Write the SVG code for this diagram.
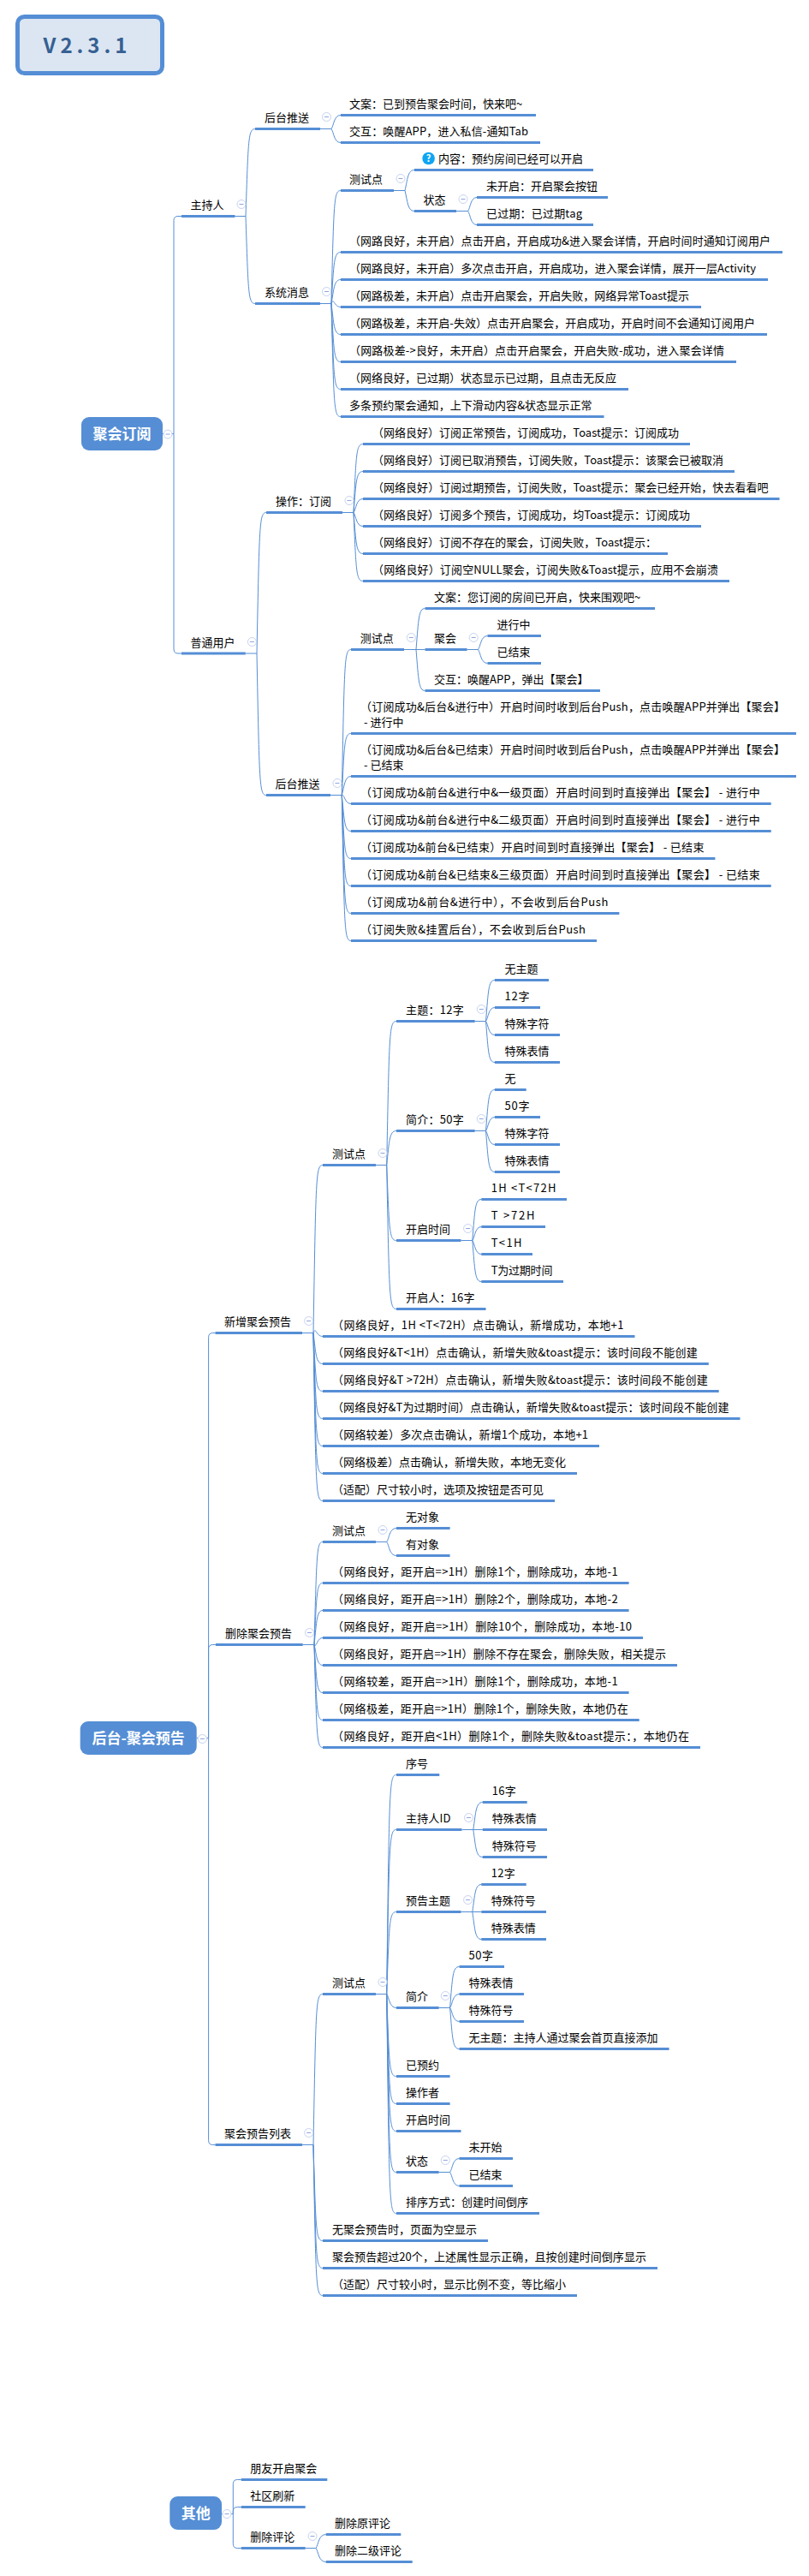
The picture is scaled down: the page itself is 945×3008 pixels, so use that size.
<svg xmlns="http://www.w3.org/2000/svg" width="945" height="3008" viewBox="0 0 945 3008" lang="zh-CN">
<style>
text{font-family:"Noto Sans CJK SC","Liberation Sans",sans-serif;font-size:13px;fill:#000}
.u{fill:none;stroke:#558ed5;stroke-width:3}
.r{fill:#558ed5}
.rt{fill:#fff;font-size:17px;font-weight:700;text-anchor:middle}
#connectors path{fill:none;stroke:#558ed5;stroke-width:1}
.cc{fill:#fff;stroke:#c6d2f0;stroke-width:1}
.cd{stroke:#8fa6dc;stroke-width:1;fill:none}
</style>
<defs>
<g id="c"><circle class="cc" r="5"/><path class="cd" d="M-2.5 0H2.5"/></g>
</defs>
<rect x="0" y="0" width="945" height="3008" fill="#fff"/>
<g id="connectors">
<!-- root 1 -->
<path d="M190 506.5H203"/>
<path d="M203 506.5V257.5Q203 252.5 208 252.5H212"/>
<path d="M203 506.5V758Q203 763 208 763H212"/>
<path d="M274.5 252.5H287"/>
<path d="M287 252.5C290 162.5 290 150.5 298 150.5"/>
<path d="M287 252.5C290 342.5 290 354.5 298 354.5"/>
<path d="M374 150.5H387"/>
<path d="M387 150.5C390 146.5 390 134.5 398 134.5"/>
<path d="M387 150.5C390 154.5 390 166.5 398 166.5"/>
<path d="M374 354.5H387"/>
<path d="M387 354.5C390 234.5 390 222.5 398 222.5"/>
<path d="M387 354.5C390 306.5 390 294.5 398 294.5"/>
<path d="M387 354.5C390 338.5 390 326.5 398 326.5"/>
<path d="M387 354.5C390 346.5 390 358.5 398 358.5"/>
<path d="M387 354.5C390 378.5 390 390.5 398 390.5"/>
<path d="M387 354.5C390 410.5 390 422.5 398 422.5"/>
<path d="M387 354.5C390 442.5 390 454.5 398 454.5"/>
<path d="M387 354.5C390 474.5 390 486.5 398 486.5"/>
<path d="M460 222.5H473"/>
<path d="M473 222.5C476 210.5 476 198.5 484 198.5"/>
<path d="M473 222.5C476 234.5 476 246.5 484 246.5"/>
<path d="M533 246.5H546.6"/>
<path d="M546.6 246.5C549.6 242.5 549.6 230.5 557 230.5"/>
<path d="M546.6 246.5C549.6 250.5 549.6 262.5 557 262.5"/>
<path d="M286.8 763H300"/>
<path d="M300 763C303 610.5 303 598.5 311 598.5"/>
<path d="M300 763C303 916.5 303 928.5 311 928.5"/>
<path d="M400 598.5H413"/>
<path d="M413 598.5C416 530.5 416 518.5 424 518.5"/>
<path d="M413 598.5C416 562.5 416 550.5 424 550.5"/>
<path d="M413 598.5C416 594.5 416 582.5 424 582.5"/>
<path d="M413 598.5C416 602.5 416 614.5 424 614.5"/>
<path d="M413 598.5C416 634.5 416 646.5 424 646.5"/>
<path d="M413 598.5C416 666.5 416 678.5 424 678.5"/>
<path d="M386 928.5H399.3"/>
<path d="M399.3 928.5C402.3 770.5 402.3 758.5 410 758.5"/>
<path d="M399.3 928.5C402.3 868.5 402.3 856.5 410 856.5"/>
<path d="M399.3 928.5C402.3 918.5 402.3 906.5 410 906.5"/>
<path d="M399.3 928.5C402.3 926.5 402.3 938.5 410 938.5"/>
<path d="M399.3 928.5C402.3 958.5 402.3 970.5 410 970.5"/>
<path d="M399.3 928.5C402.3 990.5 402.3 1002.5 410 1002.5"/>
<path d="M399.3 928.5C402.3 1022.5 402.3 1034.5 410 1034.5"/>
<path d="M399.3 928.5C402.3 1054.5 402.3 1066.5 410 1066.5"/>
<path d="M399.3 928.5C402.3 1086.5 402.3 1098.5 410 1098.5"/>
<path d="M472 758.5H496.5"/>
<path d="M486 758.5C489 722.5 489 710.5 496.5 710.5"/>
<path d="M486 758.5C489 794.5 489 806.5 496.5 806.5"/>
<path d="M545.6 758.5H558.5"/>
<path d="M558.5 758.5C561.5 754.5 561.5 742.5 569.5 742.5"/>
<path d="M558.5 758.5C561.5 762.5 561.5 774.5 569.5 774.5"/>
<!-- root 2 -->
<path d="M229.7 2029.5H243.6"/>
<path d="M243.6 2029.5V1561.5Q243.6 1556.5 248.6 1556.5H251.5"/>
<path d="M243.6 2029.5V1925.5Q243.6 1920.5 248.6 1920.5H252"/>
<path d="M243.6 2029.5V2499.5Q243.6 2504.5 248.6 2504.5H251.5"/>
<path d="M353 1556.5H366"/>
<path d="M366 1556.5C369 1372.5 369 1360.5 377 1360.5"/>
<path d="M366 1556.5C369 1548.5 369 1560.5 377 1560.5"/>
<path d="M366 1556.5C369 1580.5 369 1592.5 377 1592.5"/>
<path d="M366 1556.5C369 1612.5 369 1624.5 377 1624.5"/>
<path d="M366 1556.5C369 1644.5 369 1656.5 377 1656.5"/>
<path d="M366 1556.5C369 1676.5 369 1688.5 377 1688.5"/>
<path d="M366 1556.5C369 1708.5 369 1720.5 377 1720.5"/>
<path d="M366 1556.5C369 1740.5 369 1752.5 377 1752.5"/>
<path d="M439 1360.5H451.7"/>
<path d="M451.7 1360.5C454.7 1204.5 454.7 1192.5 463 1192.5"/>
<path d="M451.7 1360.5C454.7 1332.5 454.7 1320.5 463 1320.5"/>
<path d="M451.7 1360.5C454.7 1436.5 454.7 1448.5 463 1448.5"/>
<path d="M451.7 1360.5C454.7 1516.5 454.7 1528.5 463 1528.5"/>
<path d="M554.7 1192.5H567.5"/>
<path d="M567.5 1192.5C570.5 1156.5 570.5 1144.5 578 1144.5"/>
<path d="M567.5 1192.5C570.5 1188.5 570.5 1176.5 578 1176.5"/>
<path d="M567.5 1192.5C570.5 1196.5 570.5 1208.5 578 1208.5"/>
<path d="M567.5 1192.5C570.5 1228.5 570.5 1240.5 578 1240.5"/>
<path d="M554.7 1320.5H567.5"/>
<path d="M567.5 1320.5C570.5 1284.5 570.5 1272.5 578 1272.5"/>
<path d="M567.5 1320.5C570.5 1316.5 570.5 1304.5 578 1304.5"/>
<path d="M567.5 1320.5C570.5 1324.5 570.5 1336.5 578 1336.5"/>
<path d="M567.5 1320.5C570.5 1356.5 570.5 1368.5 578 1368.5"/>
<path d="M538.5 1448.5H551.8"/>
<path d="M551.8 1448.5C554.8 1412.5 554.8 1400.5 562.3 1400.5"/>
<path d="M551.8 1448.5C554.8 1444.5 554.8 1432.5 562.3 1432.5"/>
<path d="M551.8 1448.5C554.8 1452.5 554.8 1464.5 562.3 1464.5"/>
<path d="M551.8 1448.5C554.8 1484.5 554.8 1496.5 562.3 1496.5"/>
<path d="M353.7 1920.5H367"/>
<path d="M367 1920.5C370 1812.5 370 1800.5 377 1800.5"/>
<path d="M367 1920.5C370 1860.5 370 1848.5 377 1848.5"/>
<path d="M367 1920.5C370 1892.5 370 1880.5 377 1880.5"/>
<path d="M367 1920.5C370 1924.5 370 1912.5 377 1912.5"/>
<path d="M367 1920.5C370 1932.5 370 1944.5 377 1944.5"/>
<path d="M367 1920.5C370 1964.5 370 1976.5 377 1976.5"/>
<path d="M367 1920.5C370 1996.5 370 2008.5 377 2008.5"/>
<path d="M367 1920.5C370 2028.5 370 2040.5 377 2040.5"/>
<path d="M439 1800.5H451.7"/>
<path d="M451.7 1800.5C454.7 1796.5 454.7 1784.5 463 1784.5"/>
<path d="M451.7 1800.5C454.7 1804.5 454.7 1816.5 463 1816.5"/>
<path d="M353 2504.5H366"/>
<path d="M366 2504.5C369 2340.5 369 2328.5 377 2328.5"/>
<path d="M366 2504.5C369 2604.5 369 2616.5 377 2616.5"/>
<path d="M366 2504.5C369 2636.5 369 2648.5 377 2648.5"/>
<path d="M366 2504.5C369 2668.5 369 2680.5 377 2680.5"/>
<path d="M439 2328.5H451.7"/>
<path d="M451.7 2328.5C454.7 2084.5 454.7 2072.5 463 2072.5"/>
<path d="M451.7 2328.5C454.7 2148.5 454.7 2136.5 463 2136.5"/>
<path d="M451.7 2328.5C454.7 2244.5 454.7 2232.5 463 2232.5"/>
<path d="M451.7 2328.5C454.7 2332.5 454.7 2344.5 463 2344.5"/>
<path d="M451.7 2328.5C454.7 2412.5 454.7 2424.5 463 2424.5"/>
<path d="M451.7 2328.5C454.7 2444.5 454.7 2456.5 463 2456.5"/>
<path d="M451.7 2328.5C454.7 2476.5 454.7 2488.5 463 2488.5"/>
<path d="M451.7 2328.5C454.7 2524.5 454.7 2536.5 463 2536.5"/>
<path d="M451.7 2328.5C454.7 2572.5 454.7 2584.5 463 2584.5"/>
<path d="M539.4 2136.5H563.7"/>
<path d="M552.8 2136.5C555.8 2116.5 555.8 2104.5 563.7 2104.5"/>
<path d="M552.8 2136.5C555.8 2156.5 555.8 2168.5 563.7 2168.5"/>
<path d="M538.5 2232.5H562.3"/>
<path d="M551.8 2232.5C554.8 2212.5 554.8 2200.5 562.3 2200.5"/>
<path d="M551.8 2232.5C554.8 2252.5 554.8 2264.5 562.3 2264.5"/>
<path d="M512.7 2344.5H525.6"/>
<path d="M525.6 2344.5C528.6 2308.5 528.6 2296.5 536.5 2296.5"/>
<path d="M525.6 2344.5C528.6 2340.5 528.6 2328.5 536.5 2328.5"/>
<path d="M525.6 2344.5C528.6 2348.5 528.6 2360.5 536.5 2360.5"/>
<path d="M525.6 2344.5C528.6 2380.5 528.6 2392.5 536.5 2392.5"/>
<path d="M512.7 2536.5H525.6"/>
<path d="M525.6 2536.5C528.6 2532.5 528.6 2520.5 536.5 2520.5"/>
<path d="M525.6 2536.5C528.6 2540.5 528.6 2552.5 536.5 2552.5"/>
<!-- root 3 -->
<path d="M259 2935.5H272.3"/>
<path d="M272.3 2935.5V2900.5Q272.3 2895.5 277.3 2895.5H281.7"/>
<path d="M272.3 2935.5V2932.5Q272.3 2927.5 277.3 2927.5H281.7"/>
<path d="M272.3 2935.5V2970.5Q272.3 2975.5 277.3 2975.5H281.7"/>
<path d="M356.7 2975.5H369"/>
<path d="M369 2975.5C372 2971.5 372 2959.5 380.7 2959.5"/>
<path d="M369 2975.5C372 2979.5 372 2991.5 380.7 2991.5"/>
</g>
<g id="title"><rect x="20.5" y="19.5" width="169" height="66" rx="8" fill="#dce6f2" stroke="#558ed5" stroke-width="5"/><text x="102" y="62" text-anchor="middle" style="font-size:24px;font-weight:700;fill:#366092;letter-spacing:5px">V2.3.1</text></g>
<g id="root1"><rect class="r" x="95" y="487" width="95" height="39" rx="9"/><text class="rt" x="142.5" y="512.5">聚会订阅</text><use href="#c" x="196" y="507"/></g>
<g id="n-host"><path class="u" d="M212 252.5H274.5"/><text x="222.5" y="244">主持人</text><use href="#c" x="282" y="238.5"/></g>
<g id="n-host-push"><path class="u" d="M298 150.5H374"/><text x="309" y="142">后台推送</text><use href="#c" x="381.5" y="136.5"/></g>
<g id="n-1"><path class="u" d="M398 134.5H626"/><text x="408" y="126">文案：已到预告聚会时间，快来吧~</text></g>
<g id="n-2"><path class="u" d="M398 166.5H631"/><text x="408" y="158" textLength="209">交互：唤醒APP，进入私信-通知Tab</text></g>
<g id="n-host-sys"><path class="u" d="M298 354.5H374"/><text x="309" y="346">系统消息</text><use href="#c" x="381.5" y="340.5"/></g>
<g id="n-3"><path class="u" d="M398 222.5H460"/><text x="408" y="214">测试点</text><use href="#c" x="468" y="208.5"/></g>
<g id="n-4"><path class="u" d="M484 198.5H693"/><circle cx="500.6" cy="185" r="7.3" fill="#0ea5f2"/><text x="500.6" y="189" text-anchor="middle" style="font-size:11px;font-weight:700;fill:#fff">?</text><text x="512" y="190">内容：预约房间已经可以开启</text></g>
<g id="n-5"><path class="u" d="M484 246.5H533"/><text x="494.5" y="238">状态</text><use href="#c" x="541" y="232.5"/></g>
<g id="n-6"><path class="u" d="M557 230.5H710"/><text x="568" y="222">未开启：开启聚会按钮</text></g>
<g id="n-7"><path class="u" d="M557 262.5H693"/><text x="568" y="254" textLength="112">已过期：已过期tag</text></g>
<g id="n-8"><path class="u" d="M398 294.5H914"/><text x="408" y="286" textLength="492">（网路良好，未开启）点击开启，开启成功&amp;进入聚会详情，开启时间时通知订阅用户</text></g>
<g id="n-9"><path class="u" d="M398 326.5H897"/><text x="408" y="318" textLength="475">（网路良好，未开启）多次点击开启，开启成功，进入聚会详情，展开一层Activity</text></g>
<g id="n-10"><path class="u" d="M398 358.5H819"/><text x="408" y="350" textLength="397">（网路极差，未开启）点击开启聚会，开启失败，网络异常Toast提示</text></g>
<g id="n-11"><path class="u" d="M398 390.5H896"/><text x="408" y="382" textLength="474">（网路极差，未开启-失效）点击开启聚会，开启成功，开启时间不会通知订阅用户</text></g>
<g id="n-12"><path class="u" d="M398 422.5H860"/><text x="408" y="414" textLength="438">（网路极差-&gt;良好，未开启）点击开启聚会，开启失败-成功，进入聚会详情</text></g>
<g id="n-13"><path class="u" d="M398 454.5H734"/><text x="408" y="446">（网络良好，已过期）状态显示已过期，且点击无反应</text></g>
<g id="n-14"><path class="u" d="M398 486.5H705.5"/><text x="408" y="478" textLength="283.5">多条预约聚会通知，上下滑动内容&amp;状态显示正常</text></g>
<g id="n-user"><path class="u" d="M212 763H286.8"/><text x="222.5" y="754.5">普通用户</text><use href="#c" x="294.4" y="749.5"/></g>
<g id="n-15"><path class="u" d="M311 598.5H400"/><text x="322" y="590">操作：订阅</text><use href="#c" x="408" y="584.5"/></g>
<g id="n-16"><path class="u" d="M424 518.5H806"/><text x="435" y="510" textLength="358">（网络良好）订阅正常预告，订阅成功，Toast提示：订阅成功</text></g>
<g id="n-17"><path class="u" d="M424 550.5H858"/><text x="435" y="542" textLength="410">（网络良好）订阅已取消预告，订阅失败，Toast提示：该聚会已被取消</text></g>
<g id="n-18"><path class="u" d="M424 582.5H910.5"/><text x="435" y="574" textLength="462.5">（网络良好）订阅过期预告，订阅失败，Toast提示：聚会已经开始，快去看看吧</text></g>
<g id="n-19"><path class="u" d="M424 614.5H819"/><text x="435" y="606" textLength="371">（网络良好）订阅多个预告，订阅成功，均Toast提示：订阅成功</text></g>
<g id="n-20"><path class="u" d="M424 646.5H780"/><text x="435" y="638" textLength="332">（网络良好）订阅不存在的聚会，订阅失败，Toast提示：</text></g>
<g id="n-21"><path class="u" d="M424 678.5H852"/><text x="435" y="670" textLength="404">（网络良好）订阅空NULL聚会，订阅失败&amp;Toast提示，应用不会崩溃</text></g>
<g id="n-22"><path class="u" d="M311 928.5H386"/><text x="321.6" y="920">后台推送</text><use href="#c" x="394" y="914.5"/></g>
<g id="n-23"><path class="u" d="M410 758.5H472"/><text x="420.7" y="750">测试点</text><use href="#c" x="480.3" y="744.5"/></g>
<g id="n-24"><path class="u" d="M496.5 710.5H765"/><text x="507" y="702">文案：您订阅的房间已开启，快来围观吧~</text></g>
<g id="n-25"><path class="u" d="M496.5 758.5H545.6"/><text x="507" y="750">聚会</text><use href="#c" x="553.2" y="744.5"/></g>
<g id="n-26"><path class="u" d="M569.5 742.5H632"/><text x="580.4" y="734">进行中</text></g>
<g id="n-27"><path class="u" d="M569.5 774.5H632"/><text x="580.4" y="766">已结束</text></g>
<g id="n-28"><path class="u" d="M496.5 806.5H701"/><text x="507" y="798" textLength="180.5">交互：唤醒APP，弹出【聚会】</text></g>
<g id="n-29"><path class="u" d="M410 856.5H930"/><text x="421" y="830" textLength="496">（订阅成功&amp;后台&amp;进行中）开启时间时收到后台Push，点击唤醒APP并弹出【聚会】</text><text x="425" y="848">- 进行中</text></g>
<g id="n-30"><path class="u" d="M410 906.5H930"/><text x="421" y="880" textLength="496">（订阅成功&amp;后台&amp;已结束）开启时间时收到后台Push，点击唤醒APP并弹出【聚会】</text><text x="425" y="898">- 已结束</text></g>
<g id="n-31"><path class="u" d="M410 938.5H900.7"/><text x="421" y="930" textLength="466.7">（订阅成功&amp;前台&amp;进行中&amp;一级页面）开启时间到时直接弹出【聚会】 - 进行中</text></g>
<g id="n-32"><path class="u" d="M410 970.5H900.7"/><text x="421" y="962" textLength="466.7">（订阅成功&amp;前台&amp;进行中&amp;二级页面）开启时间到时直接弹出【聚会】 - 进行中</text></g>
<g id="n-33"><path class="u" d="M410 1002.5H835.4"/><text x="421" y="994" textLength="401.4">（订阅成功&amp;前台&amp;已结束）开启时间到时直接弹出【聚会】 - 已结束</text></g>
<g id="n-34"><path class="u" d="M410 1034.5H900.7"/><text x="421" y="1026" textLength="466.7">（订阅成功&amp;前台&amp;已结束&amp;三级页面）开启时间到时直接弹出【聚会】 - 已结束</text></g>
<g id="n-35"><path class="u" d="M410 1066.5H723.4"/><text x="421" y="1058" textLength="289.4">（订阅成功&amp;前台&amp;进行中），不会收到后台Push</text></g>
<g id="n-36"><path class="u" d="M410 1098.5H697"/><text x="421" y="1090" textLength="263">（订阅失败&amp;挂置后台），不会收到后台Push</text></g>
<g id="root2"><rect class="r" x="93.7" y="2010" width="136" height="39" rx="9"/><text class="rt" x="161.7" y="2035.5">后台-聚会预告</text><use href="#c" x="236.4" y="2030.5"/></g>
<g id="n-add"><path class="u" d="M251.5 1556.5H353"/><text x="262" y="1548">新增聚会预告</text><use href="#c" x="360.6" y="1542.5"/></g>
<g id="n-37"><path class="u" d="M377 1360.5H439"/><text x="388" y="1352">测试点</text><use href="#c" x="447" y="1346.5"/></g>
<g id="n-38"><path class="u" d="M463 1192.5H554.7"/><text x="474" y="1184" textLength="67.7">主题：12字</text><use href="#c" x="562.3" y="1178.5"/></g>
<g id="n-39"><path class="u" d="M578 1144.5H641"/><text x="589.5" y="1136">无主题</text></g>
<g id="n-40"><path class="u" d="M578 1176.5H631"/><text x="589.5" y="1168" textLength="29">12字</text></g>
<g id="n-41"><path class="u" d="M578 1208.5H654"/><text x="589.5" y="1200">特殊字符</text></g>
<g id="n-42"><path class="u" d="M578 1240.5H654"/><text x="589.5" y="1232">特殊表情</text></g>
<g id="n-43"><path class="u" d="M463 1320.5H554.7"/><text x="474" y="1312" textLength="67.7">简介：50字</text><use href="#c" x="562.3" y="1306.5"/></g>
<g id="n-44"><path class="u" d="M578 1272.5H614.7"/><text x="589.5" y="1264">无</text></g>
<g id="n-45"><path class="u" d="M578 1304.5H631"/><text x="589.5" y="1296" textLength="29">50字</text></g>
<g id="n-46"><path class="u" d="M578 1336.5H654"/><text x="589.5" y="1328">特殊字符</text></g>
<g id="n-47"><path class="u" d="M578 1368.5H654"/><text x="589.5" y="1360">特殊表情</text></g>
<g id="n-48"><path class="u" d="M463 1448.5H538.5"/><text x="474" y="1440">开启时间</text><use href="#c" x="546.6" y="1434.5"/></g>
<g id="n-49"><path class="u" d="M562.3 1400.5H662"/><text x="573.7" y="1392" textLength="75.7">1H &lt;T&lt;72H</text></g>
<g id="n-50"><path class="u" d="M562.3 1432.5H637"/><text x="573.7" y="1424" textLength="50.7">T &gt;72H</text></g>
<g id="n-51"><path class="u" d="M562.3 1464.5H622"/><text x="573.7" y="1456" textLength="35.7">T&lt;1H</text></g>
<g id="n-52"><path class="u" d="M562.3 1496.5H658"/><text x="573.7" y="1488" textLength="71.7">T为过期时间</text></g>
<g id="n-53"><path class="u" d="M463 1528.5H567.5"/><text x="474" y="1520" textLength="80.5">开启人：16字</text></g>
<g id="n-54"><path class="u" d="M377 1560.5H741.5"/><text x="388" y="1552" textLength="340.5">（网络良好，1H &lt;T&lt;72H）点击确认，新增成功，本地+1</text></g>
<g id="n-55"><path class="u" d="M377 1592.5H827.8"/><text x="388" y="1584" textLength="426.8">（网络良好&amp;T&lt;1H）点击确认，新增失败&amp;toast提示：该时间段不能创建</text></g>
<g id="n-56"><path class="u" d="M377 1624.5H839.7"/><text x="388" y="1616" textLength="438.7">（网络良好&amp;T &gt;72H）点击确认，新增失败&amp;toast提示：该时间段不能创建</text></g>
<g id="n-57"><path class="u" d="M377 1656.5H864.5"/><text x="388" y="1648" textLength="463.5">（网络良好&amp;T为过期时间）点击确认，新增失败&amp;toast提示：该时间段不能创建</text></g>
<g id="n-58"><path class="u" d="M377 1688.5H700"/><text x="388" y="1680" textLength="299">（网络较差）多次点击确认，新增1个成功，本地+1</text></g>
<g id="n-59"><path class="u" d="M377 1720.5H674"/><text x="388" y="1712">（网络极差）点击确认，新增失败，本地无变化</text></g>
<g id="n-60"><path class="u" d="M377 1752.5H648"/><text x="388" y="1744">（适配）尺寸较小时，选项及按钮是否可见</text></g>
<g id="n-del"><path class="u" d="M252 1920.5H353.7"/><text x="263" y="1912">删除聚会预告</text><use href="#c" x="361.5" y="1906.5"/></g>
<g id="n-61"><path class="u" d="M377 1800.5H439"/><text x="388" y="1792">测试点</text><use href="#c" x="447" y="1786.5"/></g>
<g id="n-62"><path class="u" d="M463 1784.5H525.6"/><text x="474" y="1776">无对象</text></g>
<g id="n-63"><path class="u" d="M463 1816.5H525.6"/><text x="474" y="1808">有对象</text></g>
<g id="n-64"><path class="u" d="M377 1848.5H734.6"/><text x="388" y="1840" textLength="333.6">（网络良好，距开启=&gt;1H）删除1个，删除成功，本地-1</text></g>
<g id="n-65"><path class="u" d="M377 1880.5H734.6"/><text x="388" y="1872" textLength="333.6">（网络良好，距开启=&gt;1H）删除2个，删除成功，本地-2</text></g>
<g id="n-66"><path class="u" d="M377 1912.5H751"/><text x="388" y="1904" textLength="350">（网络良好，距开启=&gt;1H）删除10个，删除成功，本地-10</text></g>
<g id="n-67"><path class="u" d="M377 1944.5H791"/><text x="388" y="1936" textLength="390">（网络良好，距开启=&gt;1H）删除不存在聚会，删除失败，相关提示</text></g>
<g id="n-68"><path class="u" d="M377 1976.5H734.6"/><text x="388" y="1968" textLength="333.6">（网络较差，距开启=&gt;1H）删除1个，删除成功，本地-1</text></g>
<g id="n-69"><path class="u" d="M377 2008.5H746.7"/><text x="388" y="2000" textLength="345.7">（网络极差，距开启=&gt;1H）删除1个，删除失败，本地仍在</text></g>
<g id="n-70"><path class="u" d="M377 2040.5H818"/><text x="388" y="2032" textLength="417">（网络良好，距开启&lt;1H）删除1个，删除失败&amp;toast提示：，本地仍在</text></g>
<g id="n-list"><path class="u" d="M251.5 2504.5H353"/><text x="262" y="2496">聚会预告列表</text><use href="#c" x="360.6" y="2490.5"/></g>
<g id="n-71"><path class="u" d="M377 2328.5H439"/><text x="388" y="2320">测试点</text><use href="#c" x="447" y="2314.5"/></g>
<g id="n-72"><path class="u" d="M463 2072.5H513.3"/><text x="474" y="2064">序号</text></g>
<g id="n-73"><path class="u" d="M463 2136.5H539.4"/><text x="474" y="2128" textLength="52.4">主持人ID</text><use href="#c" x="547.5" y="2122.5"/></g>
<g id="n-74"><path class="u" d="M563.7 2104.5H615.7"/><text x="574.7" y="2096" textLength="28">16字</text></g>
<g id="n-75"><path class="u" d="M563.7 2136.5H639"/><text x="574.7" y="2128">特殊表情</text></g>
<g id="n-76"><path class="u" d="M563.7 2168.5H639"/><text x="574.7" y="2160">特殊符号</text></g>
<g id="n-77"><path class="u" d="M463 2232.5H538.5"/><text x="474" y="2224">预告主题</text><use href="#c" x="546.6" y="2218.5"/></g>
<g id="n-78"><path class="u" d="M562.3 2200.5H614.7"/><text x="573.7" y="2192" textLength="28">12字</text></g>
<g id="n-79"><path class="u" d="M562.3 2232.5H638"/><text x="573.7" y="2224">特殊符号</text></g>
<g id="n-80"><path class="u" d="M562.3 2264.5H638"/><text x="573.7" y="2256">特殊表情</text></g>
<g id="n-81"><path class="u" d="M463 2344.5H512.7"/><text x="474" y="2336">简介</text><use href="#c" x="520.3" y="2330.5"/></g>
<g id="n-82"><path class="u" d="M536.5 2296.5H589"/><text x="547.5" y="2288" textLength="28.5">50字</text></g>
<g id="n-83"><path class="u" d="M536.5 2328.5H612"/><text x="547.5" y="2320">特殊表情</text></g>
<g id="n-84"><path class="u" d="M536.5 2360.5H612"/><text x="547.5" y="2352">特殊符号</text></g>
<g id="n-85"><path class="u" d="M536.5 2392.5H781.6"/><text x="547.5" y="2384">无主题：主持人通过聚会首页直接添加</text></g>
<g id="n-86"><path class="u" d="M463 2424.5H525.6"/><text x="474" y="2416">已预约</text></g>
<g id="n-87"><path class="u" d="M463 2456.5H525.6"/><text x="474" y="2448">操作者</text></g>
<g id="n-88"><path class="u" d="M463 2488.5H538.5"/><text x="474" y="2480">开启时间</text></g>
<g id="n-89"><path class="u" d="M463 2536.5H512.7"/><text x="474" y="2528">状态</text><use href="#c" x="520.3" y="2522.5"/></g>
<g id="n-90"><path class="u" d="M536.5 2520.5H599"/><text x="547.5" y="2512">未开始</text></g>
<g id="n-91"><path class="u" d="M536.5 2552.5H599"/><text x="547.5" y="2544">已结束</text></g>
<g id="n-92"><path class="u" d="M463 2584.5H630"/><text x="474" y="2576">排序方式：创建时间倒序</text></g>
<g id="n-93"><path class="u" d="M377 2616.5H570"/><text x="388" y="2608">无聚会预告时，页面为空显示</text></g>
<g id="n-94"><path class="u" d="M377 2648.5H768"/><text x="388" y="2640" textLength="367">聚会预告超过20个，上述属性显示正确，且按创建时间倒序显示</text></g>
<g id="n-95"><path class="u" d="M377 2680.5H674"/><text x="388" y="2672">（适配）尺寸较小时，显示比例不变，等比缩小</text></g>
<g id="root3"><rect class="r" x="198.3" y="2915" width="60.7" height="39" rx="9"/><text class="rt" x="228.7" y="2940.5">其他</text><use href="#c" x="265" y="2935.5"/></g>
<g id="n-96"><path class="u" d="M281.7 2895.5H382.3"/><text x="292.3" y="2887">朋友开启聚会</text></g>
<g id="n-97"><path class="u" d="M281.7 2927.5H356.7"/><text x="292.3" y="2919">社区刷新</text></g>
<g id="n-98"><path class="u" d="M281.7 2975.5H356.7"/><text x="292.3" y="2967">删除评论</text><use href="#c" x="365" y="2961.5"/></g>
<g id="n-99"><path class="u" d="M380.7 2959.5H468.3"/><text x="391" y="2951">删除原评论</text></g>
<g id="n-100"><path class="u" d="M380.7 2991.5H481.7"/><text x="391" y="2983">删除二级评论</text></g>
</svg>
